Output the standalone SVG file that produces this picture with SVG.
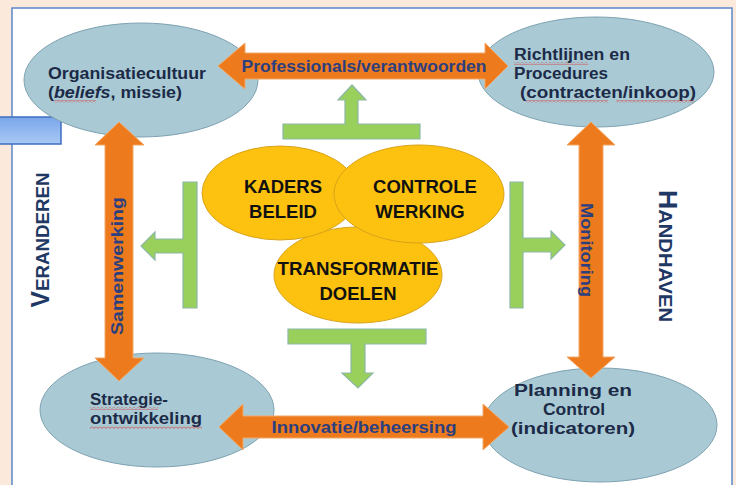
<svg xmlns="http://www.w3.org/2000/svg" width="736" height="485" viewBox="0 0 736 485">
<defs>
<style>
.blue{fill:#a9cad4;stroke:#7fa2b2;stroke-width:1}
.yel{fill:#fcc20f;stroke:#d9a31a;stroke-width:1}
.org{fill:#ed7b1e;stroke:#f2a766;stroke-width:1}
.grn{fill:#99d05c;stroke:#8db7a6;stroke-width:1.2}
.lbl{font-family:"Liberation Sans",Arial,sans-serif;font-weight:bold;font-size:16px;fill:#1c2a48}
.arr{font-family:"Liberation Sans",Arial,sans-serif;font-weight:bold;font-size:17px;fill:#2c3f7e}
.ylb{font-family:"Liberation Sans",Arial,sans-serif;font-weight:bold;font-size:18.5px;fill:#111}
.side{font-family:"Liberation Sans",Arial,sans-serif;font-weight:bold;fill:#1f3864}
</style>
<linearGradient id="bg" x1="0" y1="0" x2="0" y2="1">
<stop offset="0" stop-color="#7aa6ea"/>
<stop offset="1" stop-color="#a9c9f5"/>
</linearGradient>
<pattern id="sq" width="4" height="3" patternUnits="userSpaceOnUse">
<path d="M0,0.5 L2,2.5 L4,0.5" fill="none" stroke="#e02020" stroke-width="0.7"/>
</pattern>
</defs>
<rect width="736" height="485" fill="#fbe9dc"/>
<rect x="12" y="8" width="720" height="490" fill="#ffffff" stroke="#5b88c8" stroke-width="1.5"/>
<rect x="-2" y="117" width="63" height="27" fill="url(#bg)" stroke="#3e6fc0" stroke-width="1.5"/>

<g id="n-organisatiecultuur">
<ellipse class="blue" cx="141" cy="80" rx="117" ry="57"/>
<text class="lbl" x="48" y="79" textLength="158" lengthAdjust="spacingAndGlyphs">Organisatiecultuur</text>
<text class="lbl" x="48" y="98" textLength="134" lengthAdjust="spacingAndGlyphs">(<tspan font-style="italic">beliefs</tspan>, missie)</text>
<rect x="54" y="100" width="42" height="3" fill="url(#sq)"/>
</g>
<g id="n-richtlijnen">
<ellipse class="blue" cx="596" cy="72" rx="118" ry="55"/>
<text class="lbl" x="514" y="60" textLength="116" lengthAdjust="spacingAndGlyphs">Richtlijnen en</text>
<text class="lbl" x="514" y="79" textLength="94" lengthAdjust="spacingAndGlyphs">Procedures</text>
<text class="lbl" x="520" y="98" textLength="176" lengthAdjust="spacingAndGlyphs">(contracten/inkoop)</text>
<rect x="514" y="62" width="74" height="3" fill="url(#sq)"/>
<rect x="526" y="100" width="82" height="3" fill="url(#sq)"/>
<rect x="616" y="100" width="78" height="3" fill="url(#sq)"/>
</g>
<g id="n-strategie">
<ellipse class="blue" cx="157" cy="410" rx="117" ry="57"/>
<text class="lbl" x="90" y="405" textLength="78" lengthAdjust="spacingAndGlyphs">Strategie-</text>
<text class="lbl" x="90" y="424" textLength="112" lengthAdjust="spacingAndGlyphs">ontwikkeling</text>
<rect x="90" y="407" width="68" height="3" fill="url(#sq)"/>
<rect x="90" y="426" width="112" height="3" fill="url(#sq)"/>
</g>
<g id="n-planning">
<ellipse class="blue" cx="600" cy="425" rx="117" ry="57"/>
<text class="lbl" x="573" y="396" text-anchor="middle" textLength="118" lengthAdjust="spacingAndGlyphs">Planning en</text>
<text class="lbl" x="574" y="415" text-anchor="middle" textLength="62" lengthAdjust="spacingAndGlyphs">Control</text>
<text class="lbl" x="573" y="434" text-anchor="middle" textLength="124" lengthAdjust="spacingAndGlyphs">(indicatoren)</text>
</g>

<g id="n-transformatie">
<ellipse class="yel" cx="358" cy="275" rx="84" ry="48"/>
<text class="ylb" x="358" y="275" text-anchor="middle" textLength="161" lengthAdjust="spacingAndGlyphs">TRANSFORMATIE</text>
<text class="ylb" x="358" y="300" text-anchor="middle">DOELEN</text>
</g>
<g id="n-kaders">
<ellipse class="yel" cx="280" cy="193" rx="78" ry="47"/>
<text class="ylb" x="283" y="193" text-anchor="middle">KADERS</text>
<text class="ylb" x="283" y="218" text-anchor="middle">BELEID</text>
</g>
<g id="n-controle">
<ellipse class="yel" cx="419" cy="194" rx="85" ry="49"/>
<text class="ylb" x="425" y="193" text-anchor="middle">CONTROLE</text>
<text class="ylb" x="420" y="218" text-anchor="middle">WERKING</text>
</g>

<g id="connectors">
<path class="org" d="M218,66 L245,43 L245,53 L485,53 L485,43 L508,66 L485,89 L485,79 L245,79 L245,89 Z"/>
<text class="arr" x="364" y="72" text-anchor="middle" textLength="245" lengthAdjust="spacingAndGlyphs">Professionals/verantwoorden</text>
<path class="org" d="M219,427 L243,404 L243,416 L483,416 L483,404 L509,427 L483,450 L483,438 L243,438 L243,450 Z"/>
<text class="arr" x="364" y="433" text-anchor="middle" textLength="185" lengthAdjust="spacingAndGlyphs">Innovatie/beheersing</text>
<path class="org" d="M119,122 L144,145 L133,145 L133,358 L144,358 L119,381 L95,358 L105,358 L105,145 L95,145 Z"/>
<text class="arr" transform="translate(123,266) rotate(-90)" text-anchor="middle" textLength="138" lengthAdjust="spacingAndGlyphs">Samenwerking</text>
<path class="org" d="M591,122 L615,145 L603,145 L603,357 L615,357 L591,378 L567,357 L579,357 L579,145 L567,145 Z"/>
<text class="arr" transform="translate(581,250) rotate(90)" text-anchor="middle" textLength="94" lengthAdjust="spacingAndGlyphs">Monitoring</text>
<path class="grn" d="M283,124 L345,124 L345,100 L338,100 L352,85 L366,100 L358,100 L358,124 L420,124 L420,139 L283,139 Z"/>
<path class="grn" d="M288,329 L426,329 L426,344 L365,344 L365,373 L373,373 L358,388 L342,373 L351,373 L351,344 L288,344 Z"/>
<path class="grn" d="M197,182 L197,308 L183,308 L183,253 L155,253 L155,260 L141,246 L155,232 L155,239 L183,239 L183,182 Z"/>
<path class="grn" d="M510,182 L523,182 L523,238 L551,238 L551,231 L565,245 L551,259 L551,252 L523,252 L523,308 L510,308 Z"/>
</g>

<text class="side" transform="translate(49,240) rotate(-90)" text-anchor="middle" textLength="135" lengthAdjust="spacingAndGlyphs"><tspan font-size="25">V</tspan><tspan font-size="19">ERANDEREN</tspan></text>
<text class="side" transform="translate(659,256) rotate(90)" text-anchor="middle" textLength="132" lengthAdjust="spacingAndGlyphs"><tspan font-size="25">H</tspan><tspan font-size="19">ANDHAVEN</tspan></text>
</svg>
